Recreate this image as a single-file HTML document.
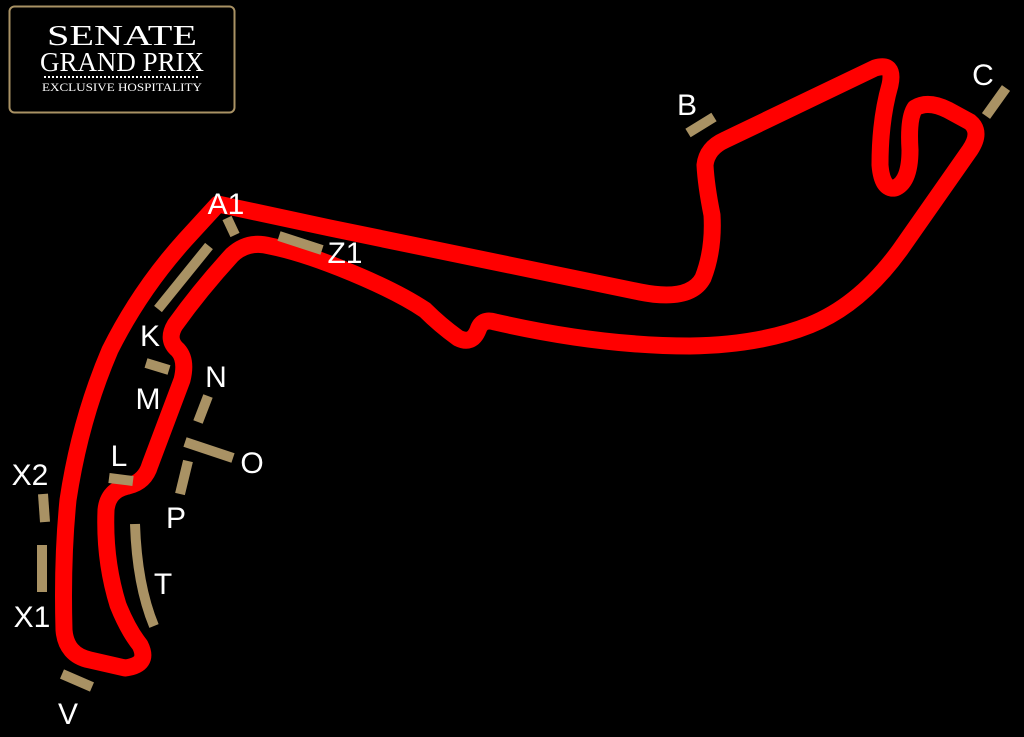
<!DOCTYPE html>
<html><head><meta charset="utf-8"><style>
html,body{margin:0;padding:0;background:#000;}
svg{display:block;}
</style></head><body>
<svg width="1024" height="737" viewBox="0 0 1024 737" xmlns="http://www.w3.org/2000/svg">
<rect width="1024" height="737" fill="#000"/>
<!-- logo -->
<rect x="9.5" y="6.5" width="225" height="106" rx="5" fill="#000" stroke="#a99264" stroke-width="2"/>
<text x="122" y="45" text-anchor="middle" fill="#fff" font-family="Liberation Serif, serif" font-size="28" textLength="150" lengthAdjust="spacingAndGlyphs">SENATE</text>
<text x="122" y="71" text-anchor="middle" fill="#fff" font-family="Liberation Serif, serif" font-size="27" textLength="164" lengthAdjust="spacingAndGlyphs">GRAND PRIX</text>
<line x1="44" y1="77" x2="200" y2="77" stroke="#fff" stroke-width="2" stroke-dasharray="2,2"/>
<text x="122" y="91" text-anchor="middle" fill="#fff" font-family="Liberation Serif, serif" font-size="12" textLength="160" lengthAdjust="spacingAndGlyphs">EXCLUSIVE HOSPITALITY</text>
<!-- track -->
<path d="M218,204 L330,228 L640,292 Q690,302 703,278 Q714,250 712,215 Q706,185 705,165 Q707,148 725,140 L875,68 Q895,62 890,85 Q880,120 880,165 Q882,190 895,188 Q910,182 910,150 Q908,118 915,108 Q928,100 948,110 L970,122 Q982,132 970,150 L900,250 Q860,305 810,325 Q760,345 690,346 Q600,346 495,322 Q482,318 478,330 Q472,345 458,338 Q440,325 425,310 Q395,290 340,268 Q300,252 270,246 Q248,240 232,255 Q200,290 175,325 Q166,340 178,350 Q187,360 182,380 L150,465 Q145,482 128,486 Q108,490 106,510 Q104,560 118,605 Q128,630 140,645 Q150,665 125,668 L90,660 Q66,655 64,630 Q62,560 68,500 Q80,420 110,350 Q140,290 185,240 Z" fill="none" stroke="#ff0000" stroke-width="17" stroke-linejoin="round"/>
<!-- markers -->
<g stroke="#a99264" stroke-width="10" fill="none">
<line x1="227" y1="218" x2="235" y2="235"/>
<line x1="209" y1="246" x2="158" y2="309"/>
<line x1="279" y1="236" x2="322" y2="250"/>
<line x1="146" y1="363" x2="169" y2="370"/>
<line x1="208" y1="396" x2="198" y2="422"/>
<line x1="185" y1="442" x2="233" y2="458"/>
<line x1="188" y1="461" x2="180" y2="494"/>
<line x1="109" y1="478" x2="133" y2="481"/>
<path d="M135,524 Q137,585 154,626"/>
<line x1="43" y1="494" x2="45" y2="522"/>
<line x1="42" y1="545" x2="42" y2="592"/>
<line x1="62" y1="674" x2="92" y2="687"/>
<line x1="688" y1="133" x2="714" y2="117"/>
<line x1="986" y1="116" x2="1006" y2="88"/>
</g>
<g fill="#fff" font-family="Liberation Sans, sans-serif" font-size="30" text-anchor="middle">
<text x="226" y="214">A1</text>
<text x="345" y="263">Z1</text>
<text x="150" y="346">K</text>
<text x="148" y="409">M</text>
<text x="216" y="387">N</text>
<text x="252" y="473">O</text>
<text x="119" y="466">L</text>
<text x="176" y="528">P</text>
<text x="30" y="485">X2</text>
<text x="163" y="594">T</text>
<text x="32" y="627">X1</text>
<text x="68" y="724">V</text>
<text x="687" y="115">B</text>
<text x="983" y="85">C</text>
</g>
</svg>
</body></html>
